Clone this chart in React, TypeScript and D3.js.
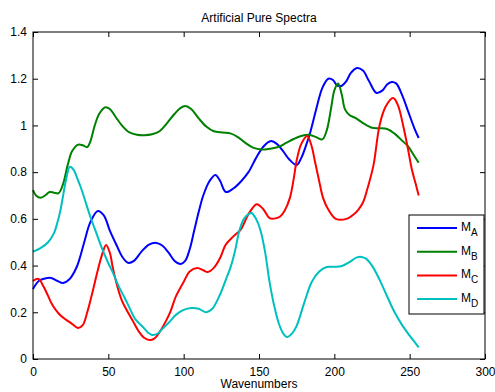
import React, { useEffect, useRef } from 'react';
import * as d3 from 'd3';

type Pt = [number, number];

// wavenumber, intensity pairs
const spectrumA: Pt[] = [
  [0, 0.3], [4, 0.335], [8, 0.345], [12, 0.347], [16, 0.335], [20, 0.325], [24, 0.34], [29, 0.394],
  [34, 0.5], [38, 0.585], [43, 0.634], [47, 0.615], [51, 0.55], [56, 0.48], [59, 0.44], [63, 0.412],
  [67, 0.42], [72, 0.46], [77, 0.49], [82, 0.497], [86, 0.485], [90, 0.455], [94, 0.42], [98, 0.407],
  [101, 0.42], [104, 0.47], [107, 0.55], [110, 0.63], [113, 0.7], [117, 0.76], [121, 0.788], [124, 0.765],
  [128, 0.715], [133, 0.73], [138, 0.76], [143, 0.8], [148, 0.86], [153, 0.91], [158, 0.933], [162, 0.92],
  [166, 0.89], [170, 0.855], [175, 0.83], [178, 0.86], [181, 0.91], [184, 0.97], [188, 1.07], [192, 1.16],
  [196, 1.2], [199, 1.195], [202, 1.17], [205, 1.17], [208, 1.19], [211, 1.225], [215, 1.246], [219, 1.235],
  [223, 1.19], [228, 1.139], [232, 1.15], [235, 1.175], [238, 1.186], [241, 1.18], [245, 1.13], [249, 1.06],
  [253, 0.99], [256, 0.946],
];

const spectrumB: Pt[] = [
  [0, 0.723], [2, 0.7], [5, 0.69], [8, 0.7], [11, 0.715], [14, 0.712], [17, 0.71], [20, 0.75],
  [23, 0.83], [26, 0.89], [30, 0.918], [33, 0.915], [36, 0.907], [38, 0.93], [41, 1.0], [44, 1.05],
  [48, 1.078], [51, 1.07], [55, 1.035], [59, 1.0], [64, 0.97], [69, 0.96], [74, 0.958], [79, 0.962],
  [84, 0.975], [89, 1.01], [94, 1.05], [98, 1.075], [101, 1.083], [105, 1.07], [110, 1.03], [115, 0.995],
  [120, 0.975], [126, 0.97], [131, 0.966], [136, 0.95], [141, 0.925], [146, 0.905], [152, 0.897], [157, 0.9],
  [163, 0.908], [168, 0.925], [173, 0.942], [178, 0.955], [183, 0.96], [188, 0.95], [192, 0.94], [195, 0.98],
  [198, 1.08], [200, 1.15], [202.5, 1.18], [205, 1.13], [207, 1.07], [210, 1.045], [214, 1.032], [219, 1.01],
  [225, 0.99], [230, 0.988], [235, 0.985], [240, 0.965], [245, 0.935], [249, 0.91], [253, 0.87], [256, 0.84],
];

const spectrumC: Pt[] = [
  [0, 0.334], [3.6, 0.343], [7, 0.31], [10, 0.27], [13, 0.23], [17, 0.195], [21, 0.172], [25, 0.155],
  [30, 0.133], [33, 0.145], [36, 0.2], [40, 0.3], [43, 0.38], [46, 0.45], [48.5, 0.488], [51, 0.455],
  [53, 0.39], [56, 0.31], [59, 0.25], [63, 0.2], [66.5, 0.16], [70, 0.12], [74, 0.09], [78, 0.081],
  [81, 0.09], [84, 0.115], [88, 0.16], [91, 0.2], [95, 0.27], [100, 0.33], [104, 0.375], [109, 0.39],
  [113, 0.38], [116, 0.372], [120, 0.39], [124, 0.43], [128, 0.49], [133, 0.525], [138, 0.555], [143, 0.62],
  [148.5, 0.663], [153, 0.64], [157, 0.603], [161, 0.602], [164, 0.61], [167, 0.635], [170.5, 0.69], [173, 0.77],
  [175, 0.85], [178, 0.92], [182, 0.955], [185, 0.91], [187, 0.85], [190, 0.76], [192.5, 0.69], [196, 0.64],
  [201, 0.6], [208, 0.6], [213, 0.62], [216, 0.64], [219, 0.67], [222, 0.73], [226, 0.83], [230, 1.0],
  [234, 1.08], [239, 1.117], [242, 1.09], [246, 0.99], [249, 0.895], [251.5, 0.81], [254, 0.75], [256, 0.7],
];

const spectrumD: Pt[] = [
  [0, 0.46], [5, 0.475], [10, 0.5], [14, 0.54], [16, 0.58], [18, 0.63], [20, 0.7], [22, 0.77],
  [24.5, 0.823], [27, 0.81], [29, 0.78], [32, 0.73], [35, 0.67], [38, 0.61], [42, 0.54], [46, 0.47],
  [50, 0.41], [53, 0.37], [57, 0.31], [61, 0.26], [64, 0.22], [68, 0.17], [73, 0.137], [76, 0.115],
  [79, 0.103], [83, 0.11], [86, 0.13], [90, 0.155], [95, 0.19], [100, 0.21], [105, 0.218], [110, 0.215],
  [115, 0.2], [119, 0.215], [124, 0.274], [128, 0.34], [131, 0.39], [134, 0.46], [137, 0.55], [140, 0.6],
  [143, 0.62], [145, 0.625], [148, 0.6], [151, 0.55], [154, 0.46], [157, 0.33], [160, 0.23], [163, 0.155],
  [166, 0.11], [168.6, 0.094], [172, 0.11], [175, 0.142], [180, 0.24], [185, 0.33], [190, 0.375], [195, 0.394],
  [200, 0.395], [205, 0.398], [210, 0.415], [215, 0.435], [218, 0.437], [221, 0.43], [225, 0.4], [230, 0.34],
  [235.6, 0.26], [240, 0.2], [245, 0.145], [250, 0.1], [253, 0.075], [256, 0.05],
];

const seriesNames = ['A', 'B', 'C', 'D'];
const seriesColors = ['#0000ff', '#008000', '#ff0000', '#00bfbf'];
const xTicks = [0, 50, 100, 150, 200, 250, 300];
const yTicks = [0, 0.2, 0.4, 0.6, 0.8, 1, 1.2, 1.4];

const App: React.FC = () => {
  const ref = useRef<SVGSVGElement>(null);

  useEffect(() => {
    const width = 495;
    const height = 392;
    const marginLeft = 33;
    const marginRight = 10;
    const marginTop = 32;
    const marginBottom = 33;
    const font = '"Liberation Sans", Arial, sans-serif';
    const tick = 5;

    const svg = d3.select(ref.current).attr('width', width).attr('height', height);
    svg.selectAll('*').remove();

    const x = d3.scaleLinear().domain([0, 300]).range([marginLeft, width - marginRight]);
    const y = d3.scaleLinear().domain([0, 1.4]).range([height - marginBottom, marginTop]);

    svg.append('rect').attr('width', width).attr('height', height).attr('fill', '#fff');

    const all = [spectrumA, spectrumB, spectrumC, spectrumD];
    const line = d3
      .line<Pt>()
      .x((d) => x(d[0]))
      .y((d) => y(d[1]))
      .curve(d3.curveCatmullRom.alpha(0.5));

    all.forEach((s, i) => {
      svg
        .append('path')
        .attr('d', line(s)!)
        .attr('fill', 'none')
        .attr('stroke', seriesColors[i])
        .attr('stroke-width', 2)
        .attr('stroke-linejoin', 'round');
    });

    // axes, ticks pointing inward on all four sides
    const styleAxis = (g: d3.Selection<SVGGElement, unknown, null, undefined>) => {
      g.select('.domain').remove();
      g.selectAll('line').attr('stroke', '#000');
      g.selectAll('text').attr('fill', '#000').attr('font-size', 12).attr('font-family', font);
    };

    svg
      .append('g')
      .attr('transform', `translate(0,${height - marginBottom})`)
      .call(d3.axisBottom(x).tickValues(xTicks).tickSizeInner(-tick).tickSizeOuter(0).tickPadding(8))
      .call(styleAxis);
    svg
      .append('g')
      .attr('transform', `translate(0,${marginTop})`)
      .call(d3.axisTop(x).tickValues(xTicks).tickSizeInner(-tick).tickSizeOuter(0).tickFormat(() => ''))
      .call(styleAxis);
    svg
      .append('g')
      .attr('transform', `translate(${marginLeft},0)`)
      .call(d3.axisLeft(y).tickValues(yTicks).tickSizeInner(-tick).tickSizeOuter(0).tickPadding(6).tickFormat(d3.format('')))
      .call(styleAxis);
    svg
      .append('g')
      .attr('transform', `translate(${width - marginRight},0)`)
      .call(d3.axisRight(y).tickValues(yTicks).tickSizeInner(-tick).tickSizeOuter(0).tickFormat(() => ''))
      .call(styleAxis);

    svg
      .append('rect')
      .attr('x', marginLeft)
      .attr('y', marginTop)
      .attr('width', width - marginLeft - marginRight)
      .attr('height', height - marginTop - marginBottom)
      .attr('fill', 'none')
      .attr('stroke', '#000')
      .attr('stroke-width', 1);

    // title and label
    svg
      .append('text')
      .attr('x', (marginLeft + width - marginRight) / 2)
      .attr('y', 22)
      .attr('text-anchor', 'middle')
      .attr('font-family', font)
      .attr('font-size', 12)
      .text('Artificial Pure Spectra');
    svg
      .append('text')
      .attr('x', (marginLeft + width - marginRight) / 2)
      .attr('y', 388)
      .attr('text-anchor', 'middle')
      .attr('font-family', font)
      .attr('font-size', 12)
      .text('Wavenumbers');

    // legend
    const legend = svg.append('g').attr('transform', 'translate(409,215)');
    legend
      .append('rect')
      .attr('width', 75)
      .attr('height', 99)
      .attr('fill', '#fff')
      .attr('stroke', '#000');
    seriesNames.forEach((name, i) => {
      const ly = 13 + i * 23.7;
      legend
        .append('line')
        .attr('x1', 8)
        .attr('x2', 48)
        .attr('y1', ly)
        .attr('y2', ly)
        .attr('stroke', seriesColors[i])
        .attr('stroke-width', 2);
      const t = legend
        .append('text')
        .attr('x', 52)
        .attr('y', ly + 3)
        .attr('font-family', font)
        .attr('font-size', 12);
      t.append('tspan').text('M');
      t.append('tspan').attr('font-size', 10).attr('dy', 5).text(name);
    });
  }, []);

  return <svg ref={ref} style={{ position: 'absolute', left: 0, top: 0 }}></svg>;
};

export default App;
